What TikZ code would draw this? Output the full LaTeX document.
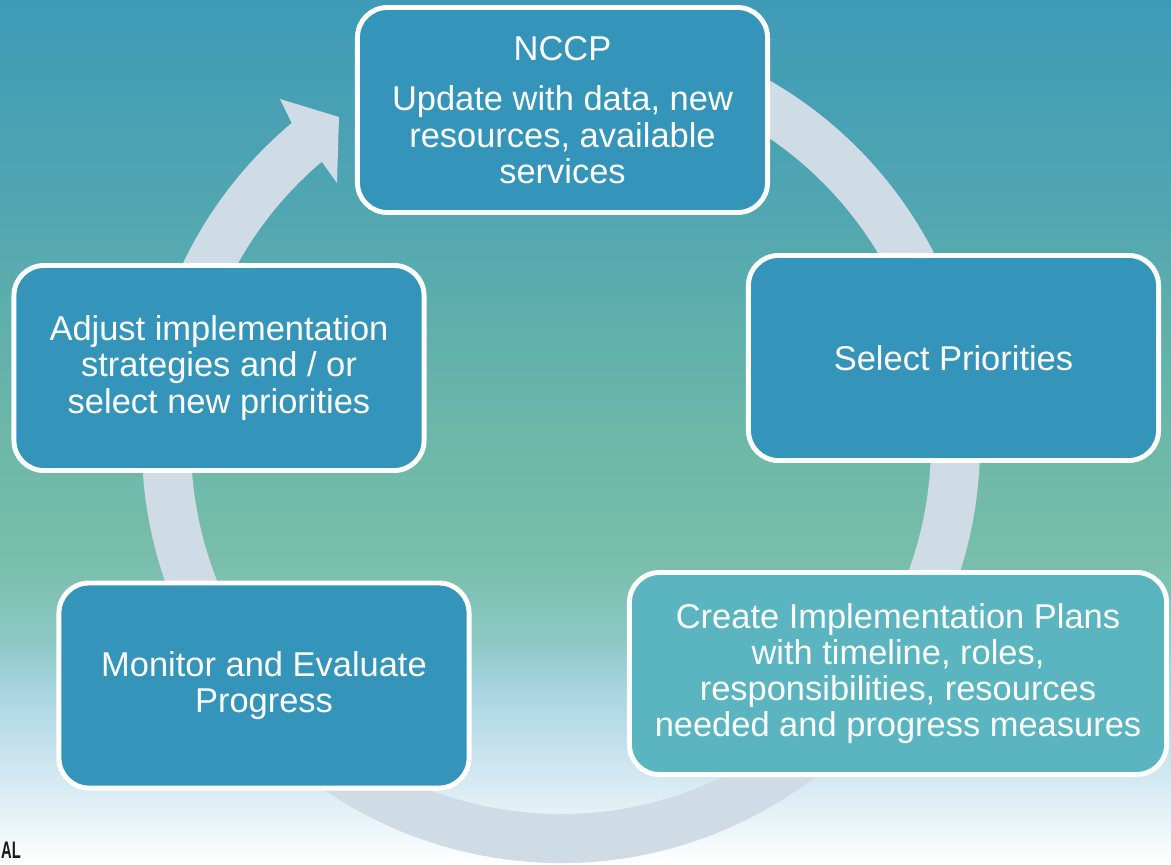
\documentclass[tikz,border=0pt]{standalone}
\usepackage{fontspec}
\setmainfont{Liberation Sans}
\usepackage{tikz}
\usetikzlibrary{calc}

\definecolor{boxblue}{RGB}{53,148,186}
\definecolor{boxteal}{RGB}{90,181,192}
\definecolor{ringgray}{RGB}{207,220,230}
\definecolor{bgA}{RGB}{62,154,182}
\definecolor{bgB}{RGB}{80,166,177}
\definecolor{bgC}{RGB}{108,183,168}
\definecolor{bgD}{RGB}{120,190,170}
\definecolor{bgE}{RGB}{140,200,195}
\definecolor{bgF}{RGB}{168,212,226}
\definecolor{bgG}{RGB}{212,233,242}
\pgfdeclareverticalshading{bgshade}{100bp}{color(0bp)=(white); color(25bp)=(white); color(29.9bp)=(bgG); color(35.1bp)=(bgF); color(38bp)=(bgE); color(42.6bp)=(bgD); color(50.1bp)=(bgC); color(63.4bp)=(bgB); color(75bp)=(bgA); color(100bp)=(bgA)}

\begin{document}
\begin{tikzpicture}[x=0.025cm, y=-0.025cm,
stage/.style={draw=white, line width=3.5pt, rounded corners=0.75cm, fill=boxblue, text=white, align=center, inner sep=0pt, font=\fontsize{24.5}{25.8}\selectfont, minimum width=10.25cm, minimum height=5.125cm},
planbox/.style={stage, fill=boxteal, minimum width=13.425cm, minimum height=5.05cm}]
\useasboundingbox (0,0) rectangle (1171,864);
\fill[shading=bgshade] (0,0) rectangle (1171,864);
\coordinate (c) at (561,444);
\fill[ringgray] ($(c)+(-80:419)$) arc[start angle=-80, end angle=230, radius=419] -- (280,99) -- (339,117) -- (337,183) -- (322,162) -- ($(c)+(230:370)$) arc[start angle=230, end angle=-80, radius=370] -- cycle;
\node[stage] (nccp) at (562.5,110) {NCCP\\[0.35cm]Update with data, new\\resources, available\\services};
\node[stage] (select) at (953.5,358) {Select Priorities};
\node[planbox] (plans) at (898,673.5) {Create Implementation Plans\\with timeline, roles,\\responsibilities, resources\\needed and progress measures};
\node[stage] (monitor) at (264,685.5) {Monitor and Evaluate\\Progress};
\node[stage] (adjust) at (219,368) {Adjust implementation\\strategies and / or\\select new priorities};
\node[font=\fontsize{17}{17}\bfseries\selectfont, text=black!90, anchor=base west, inner sep=0pt, xscale=0.62, transform shape] (tag) at (1,858) {AL};
\end{tikzpicture}
\end{document}
